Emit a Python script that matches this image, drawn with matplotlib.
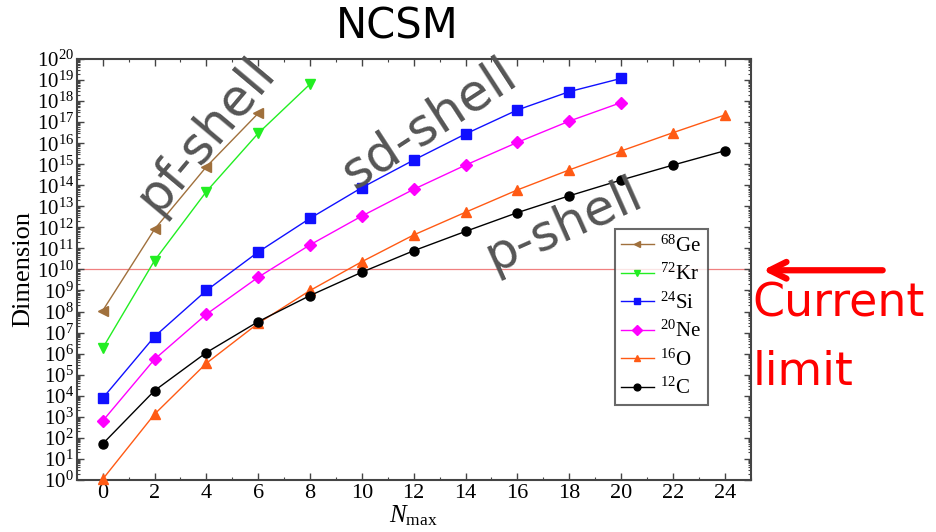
import matplotlib
matplotlib.use("Agg")
import matplotlib.pyplot as plt
import matplotlib.ticker as mticker
import numpy as np

# NCSM basis dimensions (log10 values)
nmax = [0, 2, 4, 6, 8, 10, 12, 14, 16, 18, 20, 22, 24]
log_ge68 = [8.04, 11.91, 14.88, 17.42]
log_kr72 = [6.26, 10.42, 13.70, 16.47, 18.81]
log_si24 = [3.88, 6.81, 9.00, 10.83, 12.43, 13.89, 15.20, 16.44, 17.58, 18.45, 19.08]
log_ne20 = [2.80, 5.73, 7.87, 9.63, 11.17, 12.54, 13.81, 14.96, 16.04, 17.05, 17.93]
log_o16 = [0.03, 3.12, 5.54, 7.44, 9.00, 10.37, 11.64, 12.72, 13.78, 14.73, 15.63, 16.50, 17.34]
log_c12 = [1.71, 4.24, 6.05, 7.52, 8.76, 9.87, 10.89, 11.81, 12.70, 13.50, 14.25, 14.96, 15.64]
current_limit = 1e10

series = [
    (r"$^{68}$Ge", log_ge68, "#a0703c", "<"),
    (r"$^{72}$Kr", log_kr72, "#22ee22", "v"),
    (r"$^{24}$Si", log_si24, "#1010ff", "s"),
    (r"$^{20}$Ne", log_ne20, "#ff00ff", "D"),
    (r"$^{16}$O", log_o16, "#ff5a14", "^"),
    (r"$^{12}$C", log_c12, "black", "o"),
]

plt.rcParams["font.family"] = ["Liberation Serif", "DejaVu Serif"]
plt.rcParams["mathtext.fontset"] = "custom"
plt.rcParams["mathtext.rm"] = "Liberation Serif"
plt.rcParams["mathtext.it"] = "Liberation Serif:italic"

fig = plt.figure(figsize=(9.36, 5.32), dpi=100)
ax = fig.add_axes([0.082, 0.098, 0.720, 0.791])

for label, logs, color, marker in series:
    x = nmax[:len(logs)]
    y = 10.0 ** np.array(logs)
    ax.plot(x, y, color=color, lw=1.0, marker=marker, ms=6.5,
            mec=color, mfc=color, label=label, clip_on=False, zorder=3)

ax.axhline(current_limit, color="#f08080", lw=0.9, zorder=1)

ax.set_yscale("log")
ax.set_ylim(1, 1e20)
ax.set_xlim(-1, 25)
ax.set_xticks(nmax)
ax.xaxis.set_minor_locator(mticker.MultipleLocator(1))
ax.yaxis.set_major_locator(mticker.LogLocator(base=10, numticks=30))
ax.yaxis.set_minor_locator(mticker.LogLocator(base=10, subs=np.arange(2, 10), numticks=30))
ax.yaxis.set_minor_formatter(mticker.NullFormatter())
ax.yaxis.set_major_formatter(mticker.FuncFormatter(lambda v, p: r"$10^{%d}$" % round(np.log10(v))))

ax.tick_params(which="both", direction="in", top=True, right=True, color="#444444")
ax.tick_params(which="major", length=5, width=1)
ax.tick_params(which="minor", length=2.5, width=0.8)
ax.tick_params(axis="y", labelsize=15, pad=2)
ax.tick_params(axis="x", labelsize=16, pad=3)
for sp in ax.spines.values():
    sp.set_color("#444444")
    sp.set_linewidth(1.5)

ax.set_xlabel(r"$N_{\rm max}$", fontsize=18, labelpad=0)
ax.set_ylabel("Dimension", fontsize=19, labelpad=2)

leg = ax.legend(loc="upper left", bbox_to_anchor=(0.798, 0.596), fontsize=15,
                frameon=True, fancybox=False, edgecolor="#444444",
                handlelength=1.6, handletextpad=0.3, borderpad=0.3,
                labelspacing=0.35, markerscale=0.75, borderaxespad=0)
leg.get_frame().set_linewidth(1.5)

hand = ["DejaVu Sans"]
fig.text(0.424, 0.950, "NCSM", fontsize=30, family=hand, ha="center", va="center")
ax.text(4.0, 10 ** 16.4, "pf-shell", fontsize=37, family=hand, color="#555555",
        rotation=50, ha="center", va="center")
ax.text(12.6, 10 ** 16.9, "sd-shell", fontsize=37, family=hand, color="#555555",
        rotation=33, ha="center", va="center")
ax.text(17.8, 10 ** 12.1, "p-shell", fontsize=36, family=hand, color="#555555",
        rotation=24, ha="center", va="center")

fig.text(0.804, 0.428, "Current", fontsize=33, family=hand, color="red",
         ha="left", va="center")
fig.text(0.804, 0.300, "limit", fontsize=33, family=hand, color="red",
         ha="left", va="center")
ax.annotate("", xy=(0.812, 0.492), xytext=(0.946, 0.492), xycoords="figure fraction",
            textcoords="figure fraction",
            arrowprops=dict(arrowstyle="->,head_length=1.2,head_width=0.6",
                            color="red", lw=4.5))

fig.savefig("out.png", dpi=100)
